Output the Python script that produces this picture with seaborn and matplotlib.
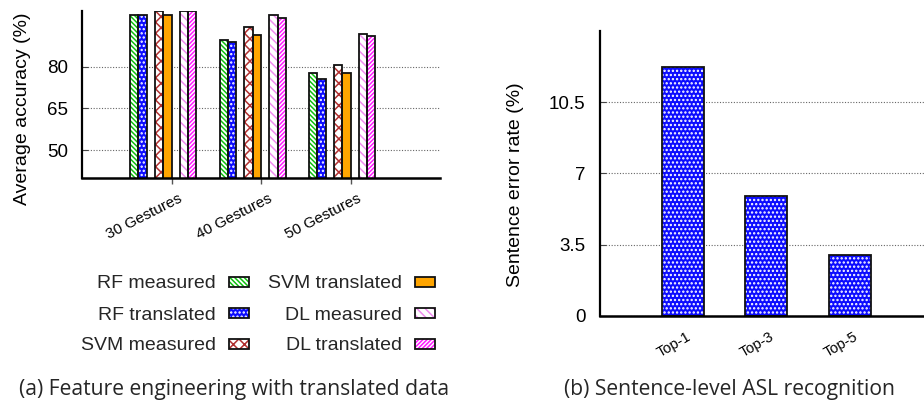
import numpy as np
import pandas as pd
import matplotlib
matplotlib.use("Agg")
import matplotlib.pyplot as plt
import matplotlib.transforms as mtransforms
from matplotlib.patches import Rectangle, Patch
from matplotlib.legend_handler import HandlerTuple
import seaborn as sns

# ---------------- data ----------------
groups = ["30 Gestures", "40 Gestures", "50 Gestures"]
series = ["RF measured", "RF translated", "SVM measured",
          "SVM translated", "DL measured", "DL translated"]
rf_measured = [98.5, 89.5, 77.7]
rf_translated = [98.7, 89.0, 75.5]
svm_measured = [100.0, 94.2, 80.5]
svm_translated = [98.4, 91.4, 77.8]
dl_measured = [99.9, 98.6, 91.8]
dl_translated = [99.9, 97.4, 91.0]
acc_yticks = [50, 65, 80]

topk_labels = ["Top-1", "Top-3", "Top-5"]
topk_error = [12.2, 5.9, 3.0]
err_yticks = [0, 3.5, 7, 10.5]
err_yticklabels = ["0", "3.5", "7", "10.5"]

# ---------------- style ----------------
sns.set_style("ticks")
plt.rcParams["font.family"] = ["Liberation Sans", "DejaVu Sans"]
plt.rcParams["hatch.linewidth"] = 1.1

BLUE_HATCH = "...."
# facecolor, hatch, hatch colour
styles = {
    "RF measured": ("white", "\\" * 7, "#10c010"),
    "RF translated": ("#0c0cff", BLUE_HATCH, "white"),
    "SVM measured": ("white", "xxx", "#b03030"),
    "SVM translated": ("#ffa500", "", "#ffa500"),
    "DL measured": ("white", "\\" * 4, "#f08cf0"),
    "DL translated": ("white", "/" * 8, "#ff1cff"),
}
hue_order = ["RF measured", "RF translated", "_g1",
             "SVM measured", "SVM translated", "_g2",
             "DL measured", "DL translated", "_g3", "_g4"]
palette = {k: styles[k][0] if k in styles else "white" for k in hue_order}

values = [rf_measured, rf_translated, svm_measured,
          svm_translated, dl_measured, dl_translated]
rows = []
for s, vals in zip(series, values):
    for g, v in zip(groups, vals):
        rows.append({"group": g, "series": s, "acc": v})
df = pd.DataFrame(rows)

fig = plt.figure(figsize=(9.24, 4.04), dpi=100)
W, H = 924, 404
ax1 = fig.add_axes([82 / W, 1 - 178 / H, (440 - 82) / W, (178 - 11) / H])
ax2 = fig.add_axes([599.5 / W, 1 - 316 / H, (924 - 599.5) / W, (316 - 30.7) / H])


def restyle(ax, container, face, hatch, hcol):
    for p in container:
        p.set_facecolor(face)
        p.set_hatch(hatch)
        p.set_edgecolor(hcol)
        p.set_linewidth(0)
        ax.add_patch(Rectangle(p.get_xy(), p.get_width(), p.get_height(),
                               fill=False, edgecolor="#111111", lw=1.3,
                               zorder=p.get_zorder() + 0.1))


# ---------------- left chart ----------------
sns.barplot(data=df, x="group", y="acc", hue="series", hue_order=hue_order,
            order=groups, palette=palette, width=0.926, ax=ax1,
            legend=False, errorbar=None, saturation=1)
conts = list(ax1.containers)
if len(conts) == len(hue_order):
    pairs = [(h, c) for h, c in zip(hue_order, conts) if h in styles]
else:
    pairs = list(zip(series, conts))
for s, cont in pairs:
    restyle(ax1, cont, *styles[s])

ax1.set_xlim(-1, 3)
ax1.set_ylim(40, 100)
ax1.set_yticks(acc_yticks)
ax1.set_xlabel("")
ax1.set_ylabel("Average accuracy (%)", fontsize=14, va="center")
ax1.yaxis.set_label_coords(23 / W, 1 - 108.5 / H, transform=fig.transFigure)

# ---------------- right chart ----------------
sns.barplot(x=topk_labels, y=topk_error, width=0.5, color="#0c0cff",
            ax=ax2, errorbar=None, saturation=1)
for cont in ax2.containers:
    restyle(ax2, cont, "#0c0cff", BLUE_HATCH, "white")
ax2.set_xlim(-1, 2.89)
ax2.set_ylim(0, 14)
ax2.set_yticks(err_yticks)
ax2.set_yticklabels(err_yticklabels)
ax2.set_ylabel("Sentence error rate (%)", fontsize=14, va="center")
ax2.yaxis.set_label_coords(515 / W, 1 - 184.5 / H, transform=fig.transFigure)

for ax in (ax1, ax2):
    sns.despine(ax=ax)
    ax.spines["left"].set_linewidth(1.6)
    ax.spines["bottom"].set_linewidth(1.8)
    ax.spines["left"].set_color("black")
    ax.spines["bottom"].set_color("black")
    ax.set_axisbelow(True)
    ax.yaxis.grid(True, linestyle=(0, (1, 1.5)), color="#666666", lw=0.8)
    ax.tick_params(axis="y", direction="in", length=4, width=0.8,
                   labelsize=13.5, pad=10, color="#444444", labelcolor="black")
    ax.yaxis.label.set_color("black")

ax1.tick_params(axis="x", direction="out", length=4, width=1,
                color="#555555", labelcolor="black", labelsize=11, pad=10)
ax2.tick_params(axis="x", length=0, labelsize=10.5, labelcolor="black", pad=14)

for ax, dx, rot in ((ax1, 10, 27), (ax2, 7, 30)):
    off = mtransforms.ScaledTranslation(dx / 100, 0, fig.dpi_scale_trans)
    for lab in ax.get_xticklabels():
        lab.set_rotation(rot)
        lab.set_ha("right")
        lab.set_va("center")
        lab.set_rotation_mode("anchor")
        lab.set_transform(lab.get_transform() + off)

# ---------------- legend ----------------
handles = []
for s in series:
    face, hatch, hcol = styles[s]
    handles.append((Patch(facecolor=face, hatch=hatch, edgecolor=hcol, lw=0),
                    Patch(fill=False, edgecolor="#111111", lw=1.3)))
fig.legend(handles, series, ncol=2, loc="center",
           bbox_to_anchor=(258 / W, 1 - 315 / H), frameon=False,
           markerfirst=False, fontsize=14, handlelength=1.03,
           handleheight=0.41, labelspacing=0.72, columnspacing=1.0,
           handletextpad=0.67, handler_map={tuple: HandlerTuple(ndivide=1)})

# ---------------- captions ----------------
cap_font = ["Open Sans", "DejaVu Sans"]
fig.text(234.5 / W, 1 - 390 / H, "(a) Feature engineering with translated data",
         ha="center", va="center", fontsize=15.2, family=cap_font)
fig.text(729.5 / W, 1 - 390 / H, "(b) Sentence-level ASL recognition",
         ha="center", va="center", fontsize=15.2, family=cap_font)

fig.savefig("out.png", dpi=100)
